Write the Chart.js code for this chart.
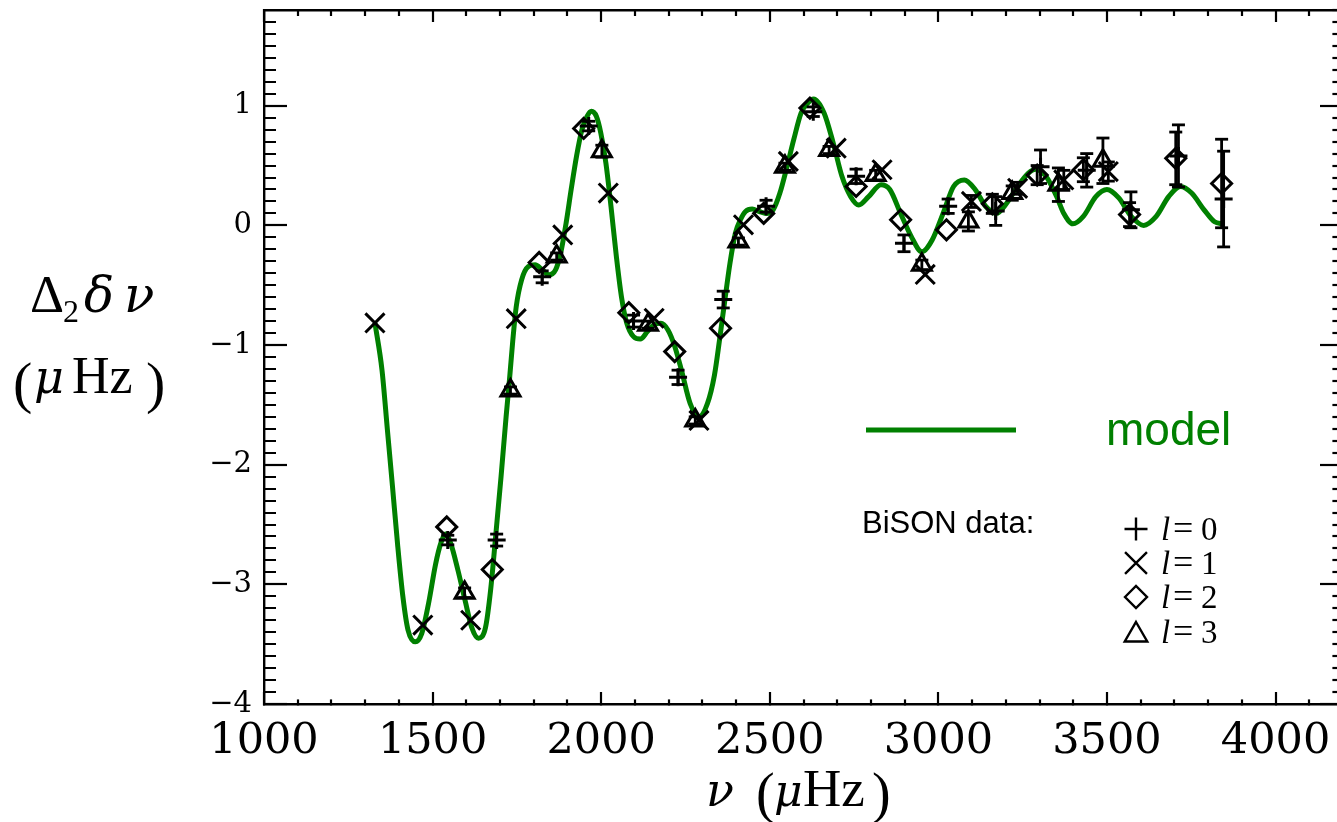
<!DOCTYPE html>
<html><head><meta charset="utf-8">
<script src="https://cdn.jsdelivr.net/npm/chart.js@4/dist/chart.umd.min.js"></script>
<style>html,body{margin:0;padding:0;overflow:hidden;background:#fff}canvas{display:block}</style>
</head><body>
<canvas id="c" width="1350" height="822" style="width:1350px;height:822px"></canvas>
<script>
// ---- model curve (frequency in μHz, Δ2δν in μHz) ----
const modelFreq = [1329,1350,1366,1381,1396,1412,1427,1449,1468,1488,1509,1524,1539,1554,1575,1596,1616,1636,1657,1672,1687,1703,1718,1728,1738,1748,1764,1784,1804,1825,1845,1865,1880,1896,1911,1927,1943,1958,1971,1986,1999,2014,2029,2045,2060,2076,2096,2116,2137,2157,2177,2198,2218,2238,2264,2290,2315,2336,2351,2367,2382,2398,2413,2428,2448,2469,2489,2510,2530,2551,2571,2593,2612,2630,2661,2688,2714,2740,2764,2793,2830,2856,2888,2919,2951,2982,3014,3045,3077,3109,3140,3172,3203,3235,3267,3288,3319,3351,3372,3399,3430,3467,3500,3535,3572,3609,3646,3683,3718,3751,3788,3819,3844];
const modelShift = [-0.815,-1.21,-1.71,-2.18,-2.66,-3.105,-3.38,-3.48,-3.41,-3.16,-2.83,-2.66,-2.58,-2.66,-2.88,-3.13,-3.36,-3.45,-3.36,-3.05,-2.60,-2.10,-1.60,-1.29,-0.957,-0.68,-0.455,-0.344,-0.33,-0.37,-0.413,-0.37,-0.23,0.02,0.30,0.58,0.80,0.91,0.953,0.91,0.77,0.52,0.16,-0.26,-0.595,-0.818,-0.93,-0.95,-0.888,-0.83,-0.818,-0.874,-1.01,-1.21,-1.49,-1.60,-1.49,-1.25,-0.957,-0.62,-0.315,-0.065,0.047,0.116,0.136,0.116,0.10,0.13,0.27,0.49,0.716,0.94,1.02,1.057,0.94,0.69,0.41,0.24,0.17,0.24,0.34,0.30,0.10,-0.09,-0.22,-0.12,0.10,0.325,0.38,0.30,0.16,0.10,0.187,0.325,0.437,0.47,0.41,0.24,0.10,0.013,0.075,0.24,0.30,0.23,0.075,0.0,0.075,0.24,0.325,0.27,0.13,0.03,0.013];

// ---- BiSON data, l = 0 ----
const l0Freq  = [1545,1690,1825,1963,2096,2228,2362,2489,2629,2756,2898,3029,3170,3303,3440,3571,3712,3846];
const l0Shift = [-2.63,-2.63,-0.43,0.83,-0.80,-1.27,-0.62,0.16,0.95,0.41,-0.15,0.16,0.12,0.49,0.46,0.13,0.58,0.22];
const l0Err   = [0.04,0.05,0.05,0.04,0.05,0.06,0.07,0.05,0.04,0.06,0.07,0.06,0.12,0.14,0.14,0.15,0.26,0.40];
// ---- l = 1 ----
const l1Freq  = [1329,1471,1613,1748,1886,2021,2157,2290,2422,2555,2697,2833,2961,3098,3235,3372,3504];
const l1Shift = [-0.815,-3.34,-3.30,-0.78,-0.08,0.27,-0.776,-1.63,0.005,0.535,0.645,0.465,-0.41,0.20,0.31,0.38,0.45];
const l1Err   = [0,0,0,0,0,0,0,0,0,0,0,0,0,0.05,0.05,0.08,0.08];
// ---- l = 2 ----
const l2Freq  = [1542,1677,1816,1948,2082,2218,2354,2482,2619,2756,2888,3024,3160,3293,3430,3567,3704,3840];
const l2Shift = [-2.52,-2.876,-0.31,0.81,-0.73,-1.055,-0.86,0.10,0.98,0.325,0.047,-0.037,0.18,0.42,0.465,0.09,0.56,0.35];
const l2Err   = [0,0,0,0,0,0,0,0,0,0,0,0,0.08,0.08,0.1,0.1,0.22,0.37];
// ---- l = 3 ----
const l3Freq  = [1595,1731,1868,2002,2139,2279,2407,2545,2676,2814,2951,3089,3219,3356,3488];
const l3Shift = [-3.07,-1.38,-0.26,0.62,-0.83,-1.63,-0.135,0.49,0.63,0.42,-0.33,0.033,0.27,0.34,0.54];
const l3Err   = [0.04,0.03,0.03,0.05,0.03,0.03,0.03,0.03,0.03,0.04,0.04,0.08,0.06,0.14,0.19];

// ---- axes ----
const xMin = 1000, xMax = 4200, xMinorStep = 100;
const yMin = -4, yMax = 1.8, yMinorStep = 0.1;
const xTickLabels = [1000,1500,2000,2500,3000,3500,4000];
const yTickLabels = [-4,-3,-2,-1,0,1];

const GREEN = 'rgb(0,128,0)';

function pts(f, v) { return f.map((x, i) => ({x: x, y: v[i]})); }
function errPts(f, v, e) {
  const out = [];
  f.forEach((x, i) => { if (e[i] > 0) { out.push({x: x, y: v[i] - e[i]}, {x: x, y: v[i] + e[i]}, {x: x, y: null}); } });
  return out;
}
function markerSet(label, f, v, style, r) {
  return { label, data: pts(f, v), showLine: false, pointStyle: style, pointRadius: r,
    pointBorderColor: '#000', pointBackgroundColor: 'rgba(0,0,0,0)', pointBorderWidth: 3, order: 1 };
}
function errSet(label, f, v, e) {
  return { label, data: errPts(f, v, e), showLine: true, spanGaps: false, borderColor: '#000', borderWidth: 2.8,
    pointStyle: 'line', pointRadius: 6.5, pointBorderColor: '#000', pointBorderWidth: 2.8, order: 2 };
}

const datasets = [
  { label: 'model', data: pts(modelFreq, modelShift), showLine: true, borderColor: GREEN, borderWidth: 5,
    pointRadius: 0, cubicInterpolationMode: 'monotone', order: 5 },
  errSet('l0 err', l0Freq, l0Shift, l0Err),
  errSet('l1 err', l1Freq, l1Shift, l1Err),
  errSet('l2 err', l2Freq, l2Shift, l2Err),
  errSet('l3 err', l3Freq, l3Shift, l3Err),
  markerSet('l=0', l0Freq, l0Shift, 'cross', 9),
  markerSet('l=1', l1Freq, l1Shift, 'crossRot', 13.5),
  markerSet('l=2', l2Freq, l2Shift, 'rectRot', 10),
  markerSet('l=3', l3Freq, l3Shift, 'triangle', 11)
];

const isXMajor = v => xTickLabels.includes(Math.round(v)) && Math.abs(v - Math.round(v)) < 1e-6;
const isYMajor = v => Math.abs(v - Math.round(v)) < 1e-6;
const fmtY = v => { const r = Math.round(v); return r < 0 ? '\u2212' + (-r) : String(r); };

function baseAxis(min, max, step) {
  return { type: 'linear', min, max, border: { display: true, color: '#000', width: 2.4 } , ticks: { stepSize: step, autoSkip: false, maxRotation: 0, minRotation: 0 } };
}
function zeroPad(s) { s.paddingTop = 0; s.paddingBottom = 0; s.paddingLeft = 0; s.paddingRight = 0; }

const scales = {
  x: Object.assign(baseAxis(xMin, xMax, xMinorStep), {
    position: 'bottom',
    grid: { drawOnChartArea: false, drawTicks: true, tickLength: -12, tickWidth: 2.2, tickColor: '#000', lineWidth: 2, color: '#000',
      tickBorderDash: c => isXMajor(c.tick.value) ? [] : [6, 100] },
    ticks: { stepSize: xMinorStep, autoSkip: false, maxRotation: 0, minRotation: 0, padding: 24, color: '#000',
      font: { family: '"DejaVu Serif"', size: 43 },
      callback: v => isXMajor(v) ? String(Math.round(v)) : '' },
    afterFit: s => { s.height = 118; zeroPad(s); }
  }),
  xTop: Object.assign(baseAxis(xMin, xMax, xMinorStep), {
    position: 'top',
    grid: { drawOnChartArea: false, drawTicks: true, tickLength: -12, tickWidth: 2.2, tickColor: '#000', lineWidth: 2, color: '#000',
      tickBorderDash: c => isXMajor(c.tick.value) ? [] : [0, 6, 6, 100] },
    ticks: { stepSize: xMinorStep, autoSkip: false, display: false },
    afterFit: s => { s.height = 10; zeroPad(s); }
  }),
  y: Object.assign(baseAxis(yMin, yMax, yMinorStep), {
    position: 'left',
    grid: { drawOnChartArea: false, drawTicks: true, tickLength: -23, tickWidth: 2.2, tickColor: '#000', lineWidth: 2, color: '#000',
      tickBorderDash: c => isYMajor(c.tick.value) ? [] : [0, 11, 12, 100] },
    ticks: { stepSize: yMinorStep, autoSkip: false, padding: 35, color: '#000',
      font: { family: '"DejaVu Serif"', size: 29 },
      callback: v => (isYMajor(v) && yTickLabels.includes(Math.round(v))) ? fmtY(v) : '' },
    afterFit: s => { s.width = 264; zeroPad(s); }
  }),
  yRight: Object.assign(baseAxis(yMin, yMax, yMinorStep), {
    position: 'right',
    grid: { drawOnChartArea: false, drawTicks: true, tickLength: -23, tickWidth: 2.2, tickColor: '#000', lineWidth: 2, color: '#000',
      tickBorderDash: c => isYMajor(c.tick.value) ? [] : [12, 100] },
    ticks: { stepSize: yMinorStep, autoSkip: false, display: false },
    afterFit: s => { s.width = 7; zeroPad(s); }
  })
};

const annot = {
  id: 'annot',
  afterDraw(chart) {
    const ctx = chart.ctx;
    ctx.save();
    ctx.fillStyle = '#000';
    ctx.textAlign = 'left';
    ctx.textBaseline = 'alphabetic';
    // y-axis title, line 1: Δ2δν
    ctx.font = '53px "Liberation Serif"';
    ctx.fillText('\u0394', 30, 312);
    ctx.font = '32px "Liberation Serif"';
    ctx.fillText('2', 63, 322);
    ctx.font = 'italic 50px "DejaVu Serif"';
    ctx.fillText('\u03B4', 84, 312);
    ctx.fillText('\u03BD', 124, 312);
    // line 2: (μ Hz)
    ctx.font = '58px "Liberation Serif"';
    ctx.fillText('(', 13, 402);
    ctx.fillText(')', 146, 402);
    ctx.font = 'italic 46px "DejaVu Serif"';
    ctx.fillText('\u03BC', 34, 393);
    ctx.font = '52px "Liberation Serif"';
    ctx.fillText('Hz', 72, 393);
    // x-axis title: ν (μHz)
    ctx.font = 'italic 46px "DejaVu Serif"';
    ctx.fillText('\u03BD', 706, 806);
    ctx.font = '56px "Liberation Serif"';
    ctx.fillText('(', 756, 812);
    ctx.fillText(')', 872, 812);
    ctx.font = 'italic 44px "DejaVu Serif"';
    ctx.fillText('\u03BC', 774, 806);
    ctx.font = '53px "Liberation Serif"';
    ctx.fillText('Hz', 803, 806);
    // legend: model
    ctx.strokeStyle = GREEN;
    ctx.lineWidth = 5;
    ctx.beginPath(); ctx.moveTo(866, 430); ctx.lineTo(1016, 430); ctx.stroke();
    ctx.fillStyle = GREEN;
    ctx.font = '46px "Liberation Sans"';
    ctx.fillText('model', 1106, 445);
    // legend: BiSON data
    ctx.fillStyle = '#000';
    ctx.font = '31px "Liberation Sans"';
    ctx.fillText('BiSON data:', 862, 533);
    const rows = [['cross', 11.5, 529, 540, '0'], ['crossRot', 15.5, 563, 574, '1'], ['rectRot', 11, 597, 608, '2'], ['triangle', 13, 635, 643, '3']];
    ctx.strokeStyle = '#000';
    ctx.fillStyle = 'rgba(0,0,0,0)';
    rows.forEach(r => {
      ctx.lineWidth = 2.4;
      Chart.helpers.drawPoint(ctx, { pointStyle: r[0], radius: r[1], borderWidth: 2.4, rotation: 0 }, 1136, r[2]);
    });
    ctx.fillStyle = '#000';
    rows.forEach(r => {
      ctx.font = 'italic 33px "Liberation Serif"';
      ctx.fillText('l', 1161, r[3]);
      ctx.font = '36px "Liberation Serif"';
      ctx.fillText('=', 1173, r[3]);
      ctx.font = '33px "Liberation Serif"';
      ctx.fillText(r[4], 1201, r[3]);
    });
    ctx.restore();
  }
};

new Chart(document.getElementById('c'), {
  type: 'scatter',
  data: { datasets },
  options: {
    responsive: false, animation: false, devicePixelRatio: 1, events: [],
    layout: { padding: 0, autoPadding: false },
    plugins: { legend: { display: false }, tooltip: { enabled: false }, title: { display: false } },
    scales
  },
  plugins: [annot]
});
</script>
</body></html>
